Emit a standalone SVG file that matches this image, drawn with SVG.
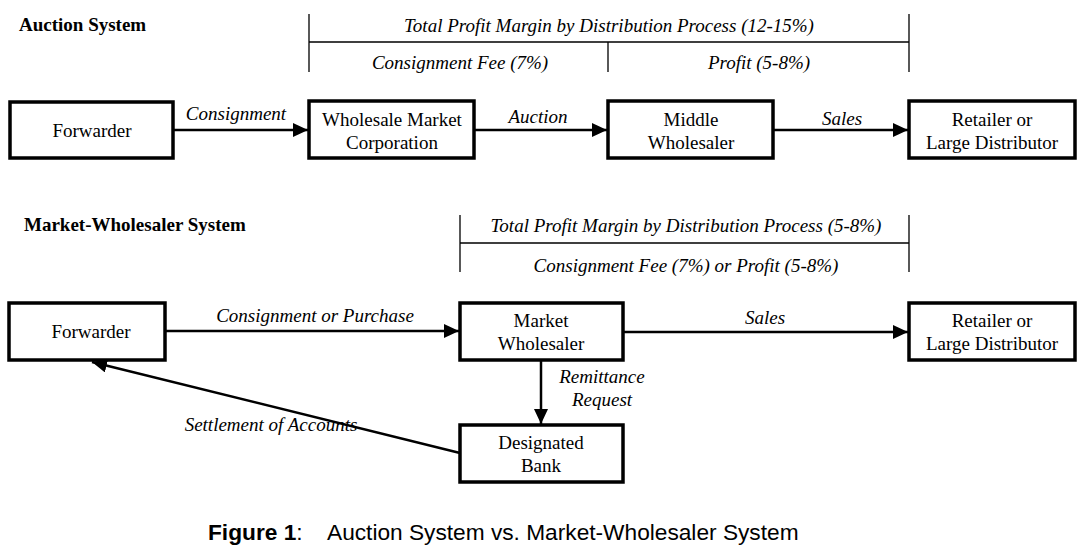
<svg xmlns="http://www.w3.org/2000/svg" width="1086" height="557" viewBox="0 0 1086 557">
<style>
.t{font-family:"Liberation Serif","Times New Roman",serif;font-size:19px;fill:#000}
.i{font-style:italic}
.b{font-weight:bold}
.c{text-anchor:middle}
.box{fill:#fff;stroke:#000;stroke-width:3.5}
.ln{stroke:#000;stroke-width:1.3;fill:none}
.ar{stroke:#000;stroke-width:2.5;fill:none;marker-end:url(#ah)}
.cap{font-family:"Liberation Sans",Arial,sans-serif;font-size:22.7px;fill:#000}
</style>
<defs>
<marker id="ah" markerUnits="userSpaceOnUse" markerWidth="16" markerHeight="14" refX="15" refY="7" orient="auto">
<path d="M0,0 L15,7 L0,14 Z" fill="#000"/>
</marker>
</defs>
<rect width="1086" height="557" fill="#fff"/>

<text class="t b" x="19" y="31">Auction System</text>
<g id="bracket-top">
<path class="ln" d="M309,14 V72 M309,42 H909 M608,42 V72 M909,14 V72"/>
<text class="t i c" x="609" y="32">Total Profit Margin by Distribution Process (12-15%)</text>
<text class="t i c" x="460" y="69">Consignment Fee (7%)</text>
<text class="t i c" x="759" y="69">Profit (5-8%)</text>
</g>

<g id="n-forwarder1"><rect class="box" x="10" y="102" width="163" height="56"/><text class="t c" x="92" y="137">Forwarder</text></g>
<g id="n-wmc"><rect class="box" x="309" y="101" width="165" height="57"/><text class="t c" x="392" y="126">Wholesale Market</text><text class="t c" x="392" y="149">Corporation</text></g>
<g id="n-middle"><rect class="box" x="608" y="101" width="165" height="57"/><text class="t c" x="691" y="126">Middle</text><text class="t c" x="691" y="149">Wholesaler</text></g>
<g id="n-retailer1"><rect class="box" x="909" y="101" width="166" height="57"/><text class="t c" x="992" y="126">Retailer or</text><text class="t c" x="992" y="149">Large Distributor</text></g>

<text class="t b" x="24" y="231">Market-Wholesaler System</text>
<g id="bracket-bottom">
<path class="ln" d="M460,215 V272 M460,243 H909 M909,215 V272"/>
<text class="t i c" x="686" y="232">Total Profit Margin by Distribution Process (5-8%)</text>
<text class="t i c" x="686" y="272">Consignment Fee (7%) or Profit (5-8%)</text>
</g>

<g id="n-forwarder2"><rect class="box" x="9" y="303" width="156" height="57"/><text class="t c" x="91" y="338">Forwarder</text></g>
<g id="n-mw"><rect class="box" x="460" y="303" width="163" height="57"/><text class="t c" x="541" y="327">Market</text><text class="t c" x="541" y="350">Wholesaler</text></g>
<g id="n-retailer2"><rect class="box" x="909" y="303" width="166" height="57"/><text class="t c" x="992" y="327">Retailer or</text><text class="t c" x="992" y="350">Large Distributor</text></g>
<g id="n-bank"><rect class="box" x="460" y="425" width="163" height="57"/><text class="t c" x="541" y="449">Designated</text><text class="t c" x="541" y="472">Bank</text></g>

<g id="connectors">
<line class="ar" x1="174" y1="130" x2="308" y2="130"/>
<line class="ar" x1="475" y1="130" x2="607" y2="130"/>
<line class="ar" x1="774" y1="130" x2="908" y2="130"/>
<line class="ar" x1="166" y1="331" x2="459" y2="331"/>
<line class="ar" x1="624" y1="332" x2="908" y2="332"/>
<line class="ar" x1="541" y1="361" x2="541" y2="424"/>
<line class="ar" x1="460" y1="453" x2="92" y2="362"/>
<text class="t i c" x="236" y="120">Consignment</text>
<text class="t i c" x="538" y="123">Auction</text>
<text class="t i c" x="842" y="125">Sales</text>
<text class="t i c" x="315" y="322">Consignment or Purchase</text>
<text class="t i c" x="765" y="324">Sales</text>
<text class="t i c" x="602" y="383">Remittance</text>
<text class="t i c" x="602" y="406">Request</text>
<text class="t i c" x="271" y="431">Settlement of Accounts</text>
</g>

<text class="cap" x="208" y="540"><tspan font-weight="bold">Figure 1</tspan>:<tspan x="327">Auction System vs. Market-Wholesaler System</tspan></text>
</svg>
